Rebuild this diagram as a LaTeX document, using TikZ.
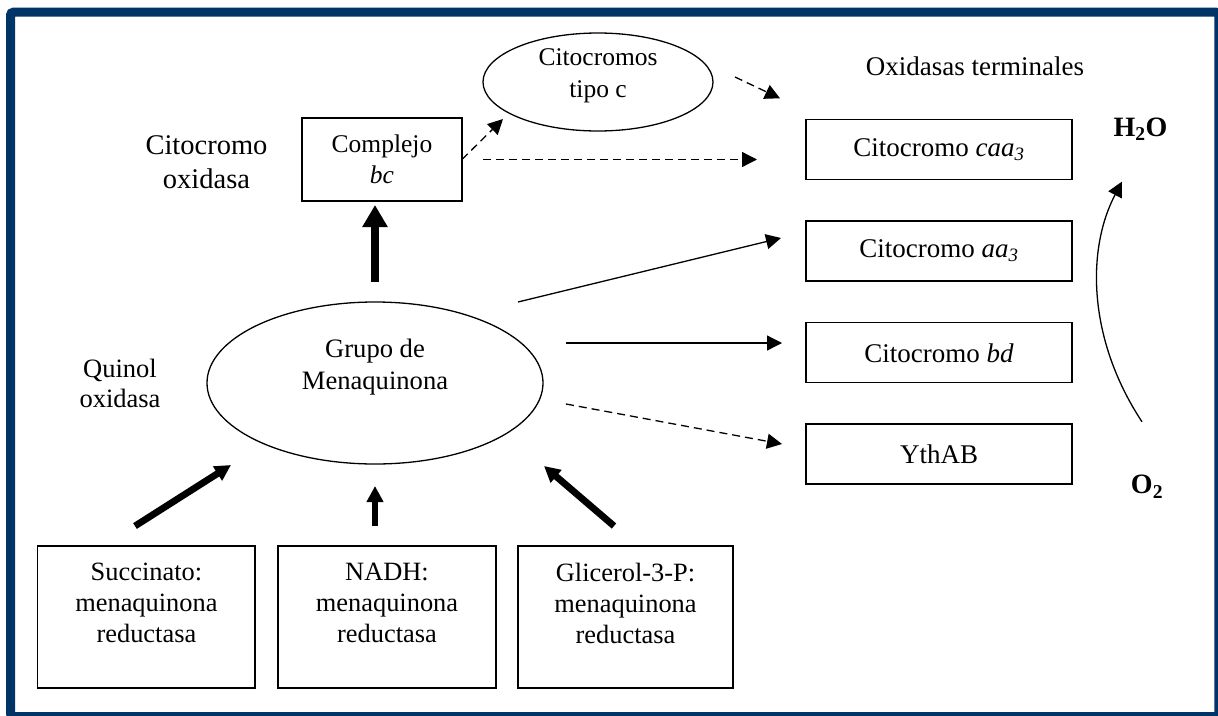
\documentclass[tikz,border=0pt]{standalone}
\usepackage{fontspec}
\setmainfont{Liberation Serif}
\usetikzlibrary{arrows.meta,shapes.geometric}
\definecolor{framecol}{RGB}{0,51,102}
\tikzset{
  boxnode/.style={draw, line width=1.3pt, rectangle, inner sep=0pt, outer sep=0pt, align=center},
  ovalnode/.style={draw, line width=1.3pt, ellipse, inner sep=0pt, outer sep=0pt},
  txt/.style={align=center, inner sep=0pt, outer sep=0pt},
  arr/.style={line width=1.3pt, -{Triangle[length=15pt,width=15pt]}},
  dasharr/.style={arr, dash pattern=on 8pt off 5pt},
  bigarr/.style={line width=6.8pt, -{Triangle[length=16pt,width=16pt]}},
  hugearr/.style={line width=8.5pt, -{Triangle[length=22pt,width=24pt]}},
  fmain/.style={font=\fontsize{27}{31}\selectfont},
  fsmall/.style={font=\fontsize{25.5}{30.5}\selectfont},
  fbot/.style={font=\fontsize{26.4}{31}\selectfont},
}
\begin{document}
\begin{tikzpicture}[x=1pt,y=-1pt]
\useasboundingbox (0,0) rectangle (1218,715);
\fill[white] (0,0) rectangle (1218,715);
\draw[framecol, line width=9pt, rounded corners=3pt] (10.5,12.2) rectangle (1218.8,716.5);

% left labels
\node[txt, font=\fontsize{28.5}{33.5}\selectfont] (coxt) at (206.5,162.3) {Citocromo\\oxidasa};
\node[txt, font=\fontsize{26.5}{30.5}\selectfont] (quit) at (120,383.2) {Quinol\\oxidasa};

% top
\node[boxnode, fsmall, minimum width=160pt, minimum height=83pt] (bc) at (382,159.5) {Complejo\\\textit{bc}};
\node[ovalnode, minimum width=230pt, minimum height=98pt] (cit) at (598,82) {};
\node[txt, font=\fontsize{25.5}{31.7}\selectfont] (citt) at (598,75.5) {Citocromos\\tipo c};
\node[txt, fmain] (oxt) at (975,66.5) {Oxidasas terminales};

% terminal oxidases
\node[boxnode, fmain, minimum width=266pt, minimum height=60pt] (caa) at (939,149.3) {Citocromo \textit{caa}\textsubscript{\textit{3}}};
\node[boxnode, fmain, minimum width=266pt, minimum height=60pt] (aa) at (939,251) {Citocromo \textit{aa}\textsubscript{\textit{3}}};
\node[boxnode, fmain, minimum width=266pt, minimum height=60pt] (bd) at (939,352.8) {Citocromo \textit{bd}};
\node[boxnode, fmain, minimum width=266pt, minimum height=60pt] (yth) at (939,454) {YthAB};

% menaquinone pool
\node[ovalnode, minimum width=336pt, minimum height=162pt] (grupo) at (375,383) {};
\node[txt, font=\fontsize{26.6}{32}\selectfont] (grupot) at (375,366.8) {Grupo de\\Menaquinona};

% water / oxygen
\node[txt, font=\fontsize{28}{32}\selectfont\bfseries] (h2o) at (1140.5,129) {H\textsubscript{2}O};
\node[txt, font=\fontsize{28}{32}\selectfont\bfseries] (o2) at (1147,486.8) {O\textsubscript{2}};

% bottom reductases
\node[boxnode, minimum width=217.3pt, minimum height=142pt] (succ) at (146.4,617) {};
\node[txt, fbot] (succt) at (146.4,603) {Succinato:\\menaquinona\\reductasa};
\node[boxnode, minimum width=218pt, minimum height=142pt] (nadh) at (387,617) {};
\node[txt, fbot] (nadht) at (387,603) {NADH:\\menaquinona\\reductasa};
\node[boxnode, minimum width=215pt, minimum height=142pt] (glic) at (625.5,617) {};
\node[txt, fbot] (glict) at (625.5,603) {Glicerol-3-P:\\menaquinona\\reductasa};

% connectors
\draw[dasharr] (bc.east) -- ([xshift=-95pt,yshift=-37pt]cit.center);
\draw[dasharr, shorten <=21pt, shorten >=49pt] (bc.east) -- (bc.east -| caa.west);
\draw[dasharr] ([xshift=137pt,yshift=5pt]cit.center) -- ([xshift=-26pt,yshift=51pt]caa.west);

\draw[hugearr, shorten <=20pt, shorten >=4pt] (grupo.north) -- (grupo.north |- bc.south);

\draw[arr] ([xshift=143pt,yshift=81pt]grupo.center) -- ([xshift=-25pt,yshift=13pt]aa.west);
\draw[arr, shorten >=24pt] ([xshift=191pt,yshift=40pt]grupo.center) coordinate (gbd) -- (gbd -| bd.west);
\draw[dasharr] ([xshift=191pt,yshift=-21pt]grupo.center) -- ([xshift=-24pt,yshift=10pt]yth.west);

\draw[bigarr] ([xshift=-11.4pt,yshift=20pt]succ.north) -- ([xshift=-144pt,yshift=-82pt]grupo.center);
\draw[bigarr] ([xshift=-12pt,yshift=20pt]nadh.north) -- ([xshift=-12pt,yshift=60pt]nadh.north);
\draw[bigarr] ([xshift=-11.5pt,yshift=20pt]glic.north) -- ([xshift=169pt,yshift=-83pt]grupo.center);

\coordinate (cstart) at ([xshift=-5pt,yshift=65pt]o2.center);
\coordinate (cend) at ([xshift=-18.5pt,yshift=-52.6pt]h2o.center);
\draw[arr] (cstart) .. controls (1088,340) and (1086,250) .. (cend);
\end{tikzpicture}
\end{document}
